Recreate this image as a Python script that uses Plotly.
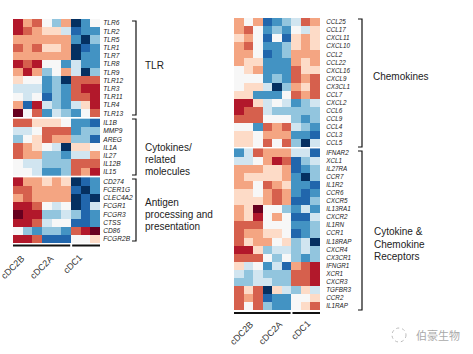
import plotly.graph_objects as go

W, H = 473, 354

# ---------------- data (z-score levels) ----------------
columns = list(range(9))            # 3 replicates per cell type
group_names = ["cDC2B", "cDC2A", "cDC1"]
group_centers = [1, 4, 7]

tlr_genes = ["TLR6", "TLR2", "TLR5", "TLR1", "TLR7", "TLR8", "TLR9",
             "TLR12", "TLR3", "TLR11", "TLR4", "TLR13"]
tlr_z = [
    [4, 2, 3, 0, -2, 2, -5, -3, 0],
    [4, 3, 2, 1, 1, -1, -4, -3, -3],
    [2, 2, 2, 2, 2, 2, -3, -5, -2],
    [3, 2, 3, 1, 1, 2, -5, -4, -3],
    [2, 2, 2, 2, 2, 2, -5, -3, -3],
    [4, 3, 4, 0, 0, -3, -1, -3, -3],
    [2, 4, 2, -2, 0, 2, -1, -5, -2],
    [1, 0, 0, -3, -2, -5, 3, 3, 3],
    [-1, -1, -1, -3, -2, -3, 3, 4, 4],
    [0, -1, 0, -4, -2, -3, 3, 3, 4],
    [2, -4, 4, -1, -2, -3, -1, 1, 4],
    [5, 0, 3, -3, -1, -2, -3, 0, 3],
]

cyto_genes = ["IL1B", "MMP9", "AREG", "IL1A", "IL27", "IL12B", "IL15"]
cyto_z = [
    [3, 3, 1, 1, 1, 0, -3, -3, -4],
    [-1, -1, 0, 3, 3, 3, -3, -2, -2],
    [-2, 0, 1, 3, 2, 2, -2, -2, -4],
    [3, 2, 1, 0, -1, -5, 1, 1, 0],
    [3, 2, 2, -2, -2, -3, -1, -1, 2],
    [0, -1, -1, -2, -2, -2, 3, 3, 3],
    [0, 0, -1, -3, -3, -2, 3, 2, 4],
]

antigen_genes = ["CD274", "FCER1G", "CLEC4A2", "FCGR1", "FCGR3", "CTSS",
                 "CD86", "FCGR2B"]
antigen_z = [
    [4, 2, 2, 1, 2, 1, -5, -4, -3],
    [3, 3, 2, 2, 2, 2, -4, -5, -3],
    [2, 3, 2, 2, 2, 2, -5, -4, -5],
    [4, 4, 3, 0, -1, 0, -5, -4, -1],
    [5, 4, 4, -2, -2, -1, -2, -4, -3],
    [4, 4, 3, -1, 0, 0, -4, -4, -3],
    [0, -2, -3, -2, -2, -3, 3, 4, 5],
    [4, 4, 3, -4, -4, -4, 0, 0, 1],
]

chemo_genes = ["CCL25", "CCL17", "CXCL11", "CXCL10", "CCL2", "CCL22",
               "CXCL16", "CXCL9", "CX3CL1", "CCL7", "CXCL2", "CCL6", "CCL9",
               "CCL4", "CCL3", "CCL5"]
chemo_z = [
    [2, 0, 2, -4, -3, -2, -1, 3, 2],
    [2, 3, 0, -3, -2, -3, 0, -1, 1],
    [1, 2, 0, -4, 0, -4, 1, 2, 1],
    [2, 3, 0, -3, -3, -2, 1, 2, 1],
    [2, 2, 0, -4, -3, -2, 2, 2, 2],
    [2, 1, 1, -3, -3, -3, 2, 1, 2],
    [0, 1, 2, -3, -3, -3, 3, 1, 1],
    [0, 0, 0, -3, -2, -3, 3, 2, 3],
    [0, 1, 1, -1, -5, -2, 2, 1, 3],
    [1, 1, -3, -3, -3, 0, 3, 2, 3],
    [4, 4, 1, -1, 0, -1, -3, -2, -1],
    [4, 3, 3, -1, -2, -2, -2, -2, -2],
    [3, 3, 3, 0, 0, 0, -2, -3, -2],
    [0, 0, -3, 3, 2, 3, -1, -2, -3],
    [1, 1, 0, 2, 2, 2, -3, -3, -4],
    [1, 1, 0, 3, 0, 3, -2, -5, -1],
]

recep_genes = ["IFNAR2", "XCL1", "IL27RA", "CCR7", "IL1R2", "CCR6", "CXCR5",
               "IL13RA1", "CXCR2", "IL1RN", "CCR1", "IL18RAP", "CXCR4",
               "CX3CR1", "IFNGR1", "XCR1", "CXCR3", "TGFBR3", "CCR2", "IL1RAP"]
recep_z = [
    [-3, -1, 3, 2, 2, 2, -1, -1, -4],
    [-1, -1, 0, 2, 4, 3, -4, -2, -1],
    [2, 2, 2, 1, 1, 2, -4, -3, -2],
    [2, 1, 1, 1, 1, 2, -3, -5, -2],
    [2, 2, 0, 3, 2, 1, -3, -3, -4],
    [1, 1, 0, 2, 3, 2, -3, -4, -3],
    [1, 1, 1, 2, 3, 2, -4, -4, -2],
    [2, 1, 5, 0, 0, -2, -3, -1, -3],
    [2, 1, 4, 0, 2, 0, -4, -4, -1],
    [3, 3, 3, 0, 0, 0, -3, -3, -2],
    [3, 2, 2, 1, 1, 0, -4, -3, -2],
    [3, 1, 2, 2, 0, 1, -2, -1, -5],
    [4, 4, 1, -2, -1, -1, -2, -1, -2],
    [3, 3, 3, 0, -2, 0, -2, -3, -2],
    [1, -1, 0, -3, -1, -4, 2, 3, 4],
    [-1, -2, -1, -2, -2, -2, 3, 3, 4],
    [-2, -2, -1, -1, -2, -2, 3, 3, 4],
    [3, 1, 3, -5, 1, -1, -2, 1, -1],
    [3, 2, 3, -4, -3, -3, 0, 0, 1],
    [3, 0, 3, -2, -3, -3, 0, 1, 3],
]

left_panel = [("TLR", tlr_genes, tlr_z),
              ("Cytokines", cyto_genes, cyto_z),
              ("Antigen", antigen_genes, antigen_z)]
right_panel = [("Chemokines", chemo_genes, chemo_z),
               ("Receptors", recep_genes, recep_z)]

# ---------------- styling ----------------
rdbu = ["#053061", "#2166ac", "#4393c3", "#92c5de", "#d1e5f0", "#f7f7f7",
        "#fddbc7", "#f4a582", "#d6604d", "#b2182b", "#67001f"]
cs = []
for k, c in enumerate(rdbu):
    cs.append([k / 11, c])
    cs.append([(k + 1) / 11, c])


def px_x(p):
    return p / W


def px_y(p):
    return 1 - p / H


fig = go.Figure()
GAP = 0.15


def add_panel(panel, xa, ya):
    tickvals, ticktext = [], []
    idx = 0
    for g, (_, genes, z) in enumerate(panel):
        pos = [idx + i + g * GAP for i in range(len(genes))]
        idx += len(genes)
        fig.add_trace(go.Heatmap(z=z, x=columns, y=pos, xaxis=xa, yaxis=ya,
                                 colorscale=cs, zmin=-5.5, zmax=5.5,
                                 showscale=False, hoverinfo="skip"))
        tickvals += pos
        ticktext += genes
    return tickvals, ticktext


ltv, ltt = add_panel(left_panel, "x", "y")
rtv, rtt = add_panel(right_panel, "x2", "y2")

tick_font_l = dict(family="Liberation Sans, Arial", size=6.6, color="#222",
                   style="italic")
tick_font_r = dict(family="Liberation Sans, Arial", size=6.3, color="#222",
                   style="italic")

fig.update_layout(
    width=W, height=H, margin=dict(l=0, r=0, t=0, b=0),
    paper_bgcolor="white", plot_bgcolor="white", showlegend=False,
    xaxis=dict(domain=[px_x(13), px_x(100)], range=[-0.5, 8.5], visible=False,
               anchor="y"),
    yaxis=dict(domain=[px_y(243), px_y(19)], range=[ltv[-1] + 0.5, -0.5],
               side="right", anchor="x", tickvals=ltv, ticktext=ltt,
               tickfont=tick_font_l, showgrid=False, zeroline=False,
               showline=False, ticks="outside", ticklen=1,
               tickcolor="rgba(0,0,0,0)"),
    xaxis2=dict(domain=[px_x(234), px_x(320)], range=[-0.5, 8.5],
                visible=False, anchor="y2"),
    yaxis2=dict(domain=[px_y(310), px_y(18)], range=[rtv[-1] + 0.5, -0.5],
                side="right", anchor="x2", tickvals=rtv, ticktext=rtt,
                tickfont=tick_font_r, showgrid=False, zeroline=False,
                showline=False, ticks="outside", ticklen=4,
                tickcolor="rgba(0,0,0,0)"),
)

shapes = []
annos = []

# group underline bars
for xa, ypx in (("x", 245.5), ("x2", 313)):
    for x0, x1 in ((-0.5, 5.42), (5.62, 8.5)):
        shapes.append(dict(type="line", xref=xa, yref="paper", x0=x0, x1=x1,
                           y0=px_y(ypx), y1=px_y(ypx),
                           line=dict(color="#111", width=2)))

# column group labels
for xa, ya, xs, ys in (("x", "y", 2, -7), ("x2", "y2", 10, -6)):
    for name, cx in zip(group_names, group_centers):
        annos.append(dict(text=name, xref=xa, yref=ya + " domain", x=cx, y=0,
                          xanchor="right", yanchor="top", xshift=xs, yshift=ys,
                          textangle=-45, showarrow=False,
                          font=dict(family="Liberation Sans, Arial", size=9,
                                    color="#333")))


# brackets
def bracket(xr, y0, y1):
    xl = xr - 4
    shapes.append(dict(type="path", xref="paper", yref="paper",
                       path=f"M {px_x(xl)} {px_y(y0)} L {px_x(xr)} {px_y(y0)} "
                            f"L {px_x(xr)} {px_y(y1)} L {px_x(xl)} {px_y(y1)}",
                       line=dict(color="#111", width=1.2)))


bracket(136, 21, 115)
bracket(136, 119, 175)
bracket(136, 179, 241)
bracket(362, 19, 147)
bracket(362, 151, 310)

label_font = dict(family="Liberation Sans, Arial", size=10, color="#222")
for txt, x, y in [("TLR", 143, 66),
                  ("Cytokines/", 143, 147), ("related", 143, 159),
                  ("molecules", 143, 171),
                  ("Antigen", 143, 202), ("processing and", 143, 214),
                  ("presentation", 143, 226),
                  ("Chemokines", 371, 77),
                  ("Cytokine &", 372, 232), ("Chemokine", 372, 244),
                  ("Receptors", 372, 256)]:
    annos.append(dict(text=txt, xref="paper", yref="paper", x=px_x(x),
                      y=px_y(y), xanchor="left", yanchor="middle",
                      showarrow=False, font=label_font))

# watermark
shapes.append(dict(type="circle", xref="paper", yref="paper",
                   x0=px_x(392), x1=px_x(406), y0=px_y(342), y1=px_y(328),
                   line=dict(color="#bbb", width=1, dash="dot")))
annos.append(dict(text="伯豪生物", xref="paper", yref="paper", x=px_x(414),
                  y=px_y(335), xanchor="left", yanchor="middle",
                  showarrow=False,
                  font=dict(family="Noto Sans CJK SC", size=11, color="#aaa")))

fig.update_layout(shapes=shapes, annotations=annos)
fig.write_html("out.html")
